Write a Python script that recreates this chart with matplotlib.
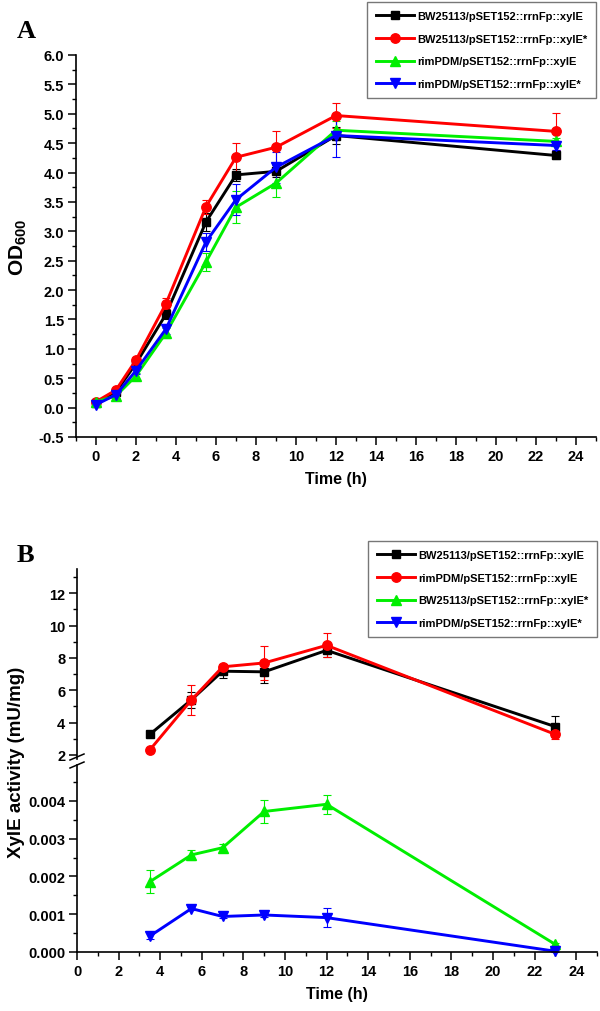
import matplotlib
matplotlib.use("Agg")
import matplotlib.pyplot as plt
from matplotlib.lines import Line2D
from matplotlib.ticker import MultipleLocator, FixedLocator, FormatStrFormatter
import numpy as np

plt.rcParams['font.family'] = ['Liberation Sans', 'DejaVu Sans']
plt.rcParams['font.weight'] = 'bold'
plt.rcParams['mathtext.fontset'] = 'custom'
plt.rcParams['mathtext.rm'] = 'Liberation Sans:bold'
plt.rcParams['mathtext.default'] = 'rm'

# ---------------- Panel A data ----------------
time_a = [0, 1, 2, 3.5, 5.5, 7, 9, 12, 23]
labels_a = ["BW25113/pSET152::rrnFp::xylE", "BW25113/pSET152::rrnFp::xylE*",
            "rimPDM/pSET152::rrnFp::xylE", "rimPDM/pSET152::rrnFp::xylE*"]
od_black = [0.08, 0.27, 0.75, 1.59, 3.16, 3.96, 4.02, 4.63, 4.29]
od_red = [0.10, 0.30, 0.81, 1.77, 3.42, 4.26, 4.43, 4.97, 4.70]
od_green = [0.10, 0.20, 0.54, 1.27, 2.48, 3.41, 3.82, 4.72, 4.53]
od_blue = [0.05, 0.22, 0.63, 1.34, 2.82, 3.54, 4.09, 4.63, 4.46]
err_black = [0.02, 0.03, 0.05, 0.08, 0.15, 0.10, 0.10, 0.15, 0.06]
err_red = [0.02, 0.03, 0.05, 0.09, 0.12, 0.24, 0.28, 0.22, 0.32]
err_green = [0.02, 0.03, 0.05, 0.08, 0.15, 0.27, 0.24, 0.15, 0.06]
err_blue = [0.02, 0.03, 0.05, 0.08, 0.15, 0.27, 0.26, 0.36, 0.08]

# ---------------- Panel B data ----------------
time_b = [3.5, 5.5, 7, 9, 12, 23]
labels_b = ["BW25113/pSET152::rrnFp::xylE", "rimPDM/pSET152::rrnFp::xylE",
            "BW25113/pSET152::rrnFp::xylE*", "rimPDM/pSET152::rrnFp::xylE*"]
act_black = [3.27, 5.41, 7.18, 7.14, 8.47, 3.75]
act_red = [2.31, 5.40, 7.45, 7.69, 8.78, 3.27]
act_green = [0.00186, 0.00257, 0.00276, 0.00372, 0.00391, 0.00020]
act_blue = [0.00042, 0.00115, 0.00094, 0.00098, 0.00091, 0.00002]
aerr_black = [0.10, 0.50, 0.45, 0.70, 0.40, 0.65]
aerr_red = [0.10, 0.90, 0.20, 1.05, 0.75, 0.30]
aerr_green = [0.00030, 0.00013, 0.00010, 0.00030, 0.00025, 0.00003]
aerr_blue = [0.00008, 0.00005, 0.00005, 0.00005, 0.00025, 0.00002]

BLACK, RED, GREEN, BLUE = '#000000', '#ff0000', '#00ee00', '#0000ff'
MARKERS = {'s': 5.5, 'o': 6.8, '^': 7.0, 'v': 7.0}

W, H = 600, 1012
fig = plt.figure(figsize=(W / 100, H / 100), dpi=100)


def pos(l, t, r, b):
    return [l / W, 1 - b / H, (r - l) / W, (b - t) / H]


def style_axis(ax):
    for s in ['top', 'right']:
        ax.spines[s].set_visible(False)
    for s in ['left', 'bottom']:
        ax.spines[s].set_linewidth(1.2)
    ax.tick_params(which='major', direction='out', length=5.5, width=1.1,
                   labelsize=10.5, pad=3)
    ax.tick_params(which='minor', direction='out', length=3.2, width=1.0)


def plot_series(ax, x, y, e, color, marker, label):
    ax.errorbar(x, y, yerr=e, color=color, marker=marker,
                markersize=MARKERS[marker],
                linewidth=2.1, elinewidth=0.8, capsize=3, capthick=0.8,
                label=label, clip_on=False)


def handle(color, marker):
    return Line2D([], [], color=color, marker=marker,
                  markersize=MARKERS[marker], linewidth=2.1)


def make_legend(target, handles, labels, x, y):
    leg = target.legend(handles, labels, loc='upper left',
                        bbox_to_anchor=(x / W, 1 - y / H),
                        bbox_transform=fig.transFigure, frameon=True,
                        fancybox=False, edgecolor='#555555',
                        prop={'weight': 'bold', 'size': 8},
                        handlelength=3.4, handletextpad=0.3,
                        labelspacing=1.15, borderpad=0.8, borderaxespad=0)
    leg.get_frame().set_linewidth(1.0)
    return leg


# ---------------- Panel A ----------------
axA = fig.add_axes(pos(76, 56, 596, 438))
plot_series(axA, time_a, od_black, err_black, BLACK, 's', labels_a[0])
plot_series(axA, time_a, od_red, err_red, RED, 'o', labels_a[1])
plot_series(axA, time_a, od_green, err_green, GREEN, '^', labels_a[2])
plot_series(axA, time_a, od_blue, err_blue, BLUE, 'v', labels_a[3])
axA.set_xlim(-1, 25)
axA.set_ylim(-0.5, 6.0)
axA.xaxis.set_major_locator(FixedLocator(np.arange(0, 25, 2)))
axA.xaxis.set_minor_locator(FixedLocator(np.arange(-1, 26, 1)))
axA.yaxis.set_major_locator(MultipleLocator(0.5))
axA.yaxis.set_minor_locator(MultipleLocator(0.25))
axA.yaxis.set_major_formatter(FormatStrFormatter('%.1f'))
style_axis(axA)
axA.set_xlabel('Time (h)', fontsize=11.5, fontweight='bold', labelpad=6)
axA.set_ylabel('OD$_{600}$', fontsize=15, fontweight='bold', labelpad=7)
make_legend(axA, [handle(BLACK, 's'), handle(RED, 'o'), handle(GREEN, '^'),
                  handle(BLUE, 'v')], labels_a, 367, 3)
fig.text(17 / W, 1 - 38 / H, 'A', fontsize=19, fontweight='bold',
         family=['Liberation Serif'], ha='left', va='baseline')

# ---------------- Panel B ----------------
axBu = fig.add_axes(pos(77, 570, 597, 760))
axBl = fig.add_axes(pos(77, 766, 597, 953))
plot_series(axBu, time_b, act_black, aerr_black, BLACK, 's', labels_b[0])
plot_series(axBu, time_b, act_red, aerr_red, RED, 'o', labels_b[1])
plot_series(axBl, time_b, act_green, aerr_green, GREEN, '^', labels_b[2])
plot_series(axBl, time_b, act_blue, aerr_blue, BLUE, 'v', labels_b[3])
for ax in (axBu, axBl):
    ax.set_xlim(0, 25)
    ax.xaxis.set_major_locator(FixedLocator(np.arange(0, 25, 2)))
    ax.xaxis.set_minor_locator(FixedLocator(np.arange(0, 26, 1)))
    ax.patch.set_alpha(0)
axBu.set_ylim(1.75, 13.5)
axBu.yaxis.set_major_locator(FixedLocator([2, 4, 6, 8, 10, 12]))
axBu.yaxis.set_minor_locator(FixedLocator(np.arange(3, 14, 1)))
axBu.yaxis.set_major_formatter(FormatStrFormatter('%d'))
axBl.set_ylim(0, 0.00495)
axBl.yaxis.set_major_locator(FixedLocator([0, 0.001, 0.002, 0.003, 0.004]))
axBl.yaxis.set_minor_locator(FixedLocator(np.arange(0.0005, 0.005, 0.001)))
axBl.yaxis.set_major_formatter(FormatStrFormatter('%.3f'))
style_axis(axBu)
style_axis(axBl)
axBu.spines['bottom'].set_visible(False)
axBu.tick_params(axis='x', which='both', bottom=False, labelbottom=False)
axBl.set_xlabel('Time (h)', fontsize=11.5, fontweight='bold', labelpad=6)
fig.text(17 / W, 1 - 762 / H, 'XylE activity (mU/mg)', rotation=90,
         fontsize=13.5, fontweight='bold', ha='center', va='center')

# break marks
for yb in (758, 766):
    fig.add_artist(Line2D([70 / W, 84 / W], [1 - (yb + 3) / H, 1 - (yb - 3) / H],
                          color='black', linewidth=1.1))

make_legend(fig, [handle(BLACK, 's'), handle(RED, 'o'), handle(GREEN, '^'),
                  handle(BLUE, 'v')], labels_b, 368, 542)
fig.text(17 / W, 1 - 562 / H, 'B', fontsize=19, fontweight='bold',
         family=['Liberation Serif'], ha='left', va='baseline')

fig.canvas.draw()
for ax in (axA, axBu, axBl):
    for lab in ax.get_xticklabels() + ax.get_yticklabels():
        lab.set_fontweight('bold')

fig.savefig('out.png', dpi=100)
